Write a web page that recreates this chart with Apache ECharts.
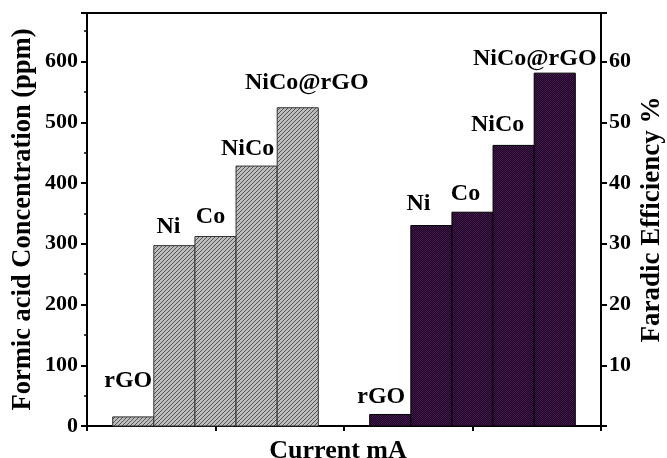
<!DOCTYPE html>
<html><head><meta charset="utf-8">
<script src="https://cdn.jsdelivr.net/npm/echarts@6/dist/echarts.min.js"></script>
<style>html,body{margin:0;padding:0;background:#fff}#chart{width:667px;height:458px}</style>
</head><body><div id="chart"></div>
<script>
// ---- data ----
const categories = ['rGO', 'Ni', 'Co', 'NiCo', 'NiCo@rGO'];
const formicPpm = [15, 297, 312, 428, 524];
const faradicEfficiency = [1.9, 33, 35.2, 46.2, 58.1];
const groupPositions = [1, 3];
const leftTickValues = [0, 100, 200, 300, 400, 500, 600];
const rightTickValues = [10, 20, 30, 40, 50, 60];

// ---- styling ----
const BAR_W = 0.32;
const leftLabelDx = [-5, -6, -5, -9, 9];
const leftLabelDy = [36, 19, 20, 17, 25];
const rightLabelDx = [-9, -13, -7, -16, -20];
const rightLabelDy = [18, 22, 18, 21, 14];
const FONT = '"Liberation Serif", "Times New Roman", serif';

function hatchPattern() {
  const s = 4, c = document.createElement('canvas');
  c.width = s; c.height = s;
  const g = c.getContext('2d');
  g.fillStyle = '#bdbdbd'; g.fillRect(0, 0, s, s);
  g.strokeStyle = '#4a4a4a'; g.lineWidth = 0.9;
  g.beginPath();
  g.moveTo(0, s); g.lineTo(s, 0);
  g.moveTo(-1, 1); g.lineTo(1, -1);
  g.moveTo(s - 1, s + 1); g.lineTo(s + 1, s - 1);
  g.stroke();
  return { image: c, repeat: 'repeat' };
}
function checkPattern() {
  const c = document.createElement('canvas');
  c.width = 2; c.height = 2;
  const g = c.getContext('2d');
  g.fillStyle = '#1a0620'; g.fillRect(0, 0, 2, 2);
  g.fillStyle = '#461650'; g.fillRect(0, 0, 1, 1); g.fillRect(1, 1, 1, 1);
  return { image: c, repeat: 'repeat' };
}

function makeRender(fill, stroke, dx, dy) {
  return function (params, api) {
    const x = api.value(0), v = api.value(1), i = params.dataIndex;
    const tl = api.coord([x - BAR_W / 2, v]);
    const br = api.coord([x + BAR_W / 2, 0]);
    return {
      type: 'group',
      children: [
        { type: 'rect', shape: { x: tl[0], y: tl[1], width: br[0] - tl[0], height: br[1] - tl[1] },
          style: { fill: fill, stroke: stroke, lineWidth: 1 } },
        { type: 'text', x: (tl[0] + br[0]) / 2 + dx[i], y: tl[1] - dy[i],
          style: { text: categories[i], fill: '#000', font: 'bold 24px ' + FONT,
                   align: 'center', verticalAlign: 'middle', textAlign: 'center', textVerticalAlign: 'middle' } }
      ]
    };
  };
}

const leftData = formicPpm.map((v, i) => [groupPositions[0] + (i - 2) * BAR_W, v]);
const rightData = faradicEfficiency.map((v, i) => [groupPositions[1] + (i - 2) * BAR_W, v]);

const axisLineStyle = { color: '#000', width: 2 };
const labelStyle = { color: '#000', fontFamily: FONT, fontWeight: 'bold', fontSize: 22 };

const chart = echarts.init(document.getElementById('chart'));
chart.setOption({
  animation: false,
  grid: { left: 87, right: 66, top: 13, bottom: 32, outerBoundsMode: 'none', containLabel: false,
          show: true, borderColor: '#000', borderWidth: 2, backgroundColor: 'transparent' },
  xAxis: {
    type: 'value', min: 0, max: 4, interval: 1,
    name: 'Current mA', nameLocation: 'middle', nameGap: 12, nameMoveOverlap: false,
    nameTextStyle: { color: '#000', fontFamily: FONT, fontWeight: 'bold', fontSize: 26, verticalAlign: 'top',
                     padding: [0, 12, 0, 0] },
    axisLine: { show: true, lineStyle: axisLineStyle },
    axisTick: { show: true, inside: false, length: 5, lineStyle: { color: '#000', width: 2 } },
    axisLabel: { show: false },
    splitLine: { show: false }
  },
  yAxis: [
    {
      type: 'value', min: 0, max: 680, interval: 100, position: 'left',
      name: 'Formic acid Concentration (ppm)', nameLocation: 'middle', nameGap: 50, nameRotate: 90,
      nameMoveOverlap: false,
      nameTextStyle: { color: '#000', fontFamily: FONT, fontWeight: 'bold', fontSize: 26.5 },
      axisLine: { show: true, lineStyle: axisLineStyle },
      axisTick: { show: true, inside: false, length: 6, lineStyle: { color: '#000', width: 2 } },
      minorTick: { show: true, splitNumber: 2, length: 3, lineStyle: { color: '#000', width: 1.5 } },
      axisLabel: Object.assign({ margin: 9, formatter: v => leftTickValues.includes(v) ? String(v) : '' }, labelStyle),
      splitLine: { show: false }
    },
    {
      type: 'value', min: 0, max: 68, interval: 10, position: 'right',
      name: 'Faradic Efficiency %', nameLocation: 'middle', nameGap: 38, nameRotate: 90,
      nameMoveOverlap: false,
      nameTextStyle: { color: '#000', fontFamily: FONT, fontWeight: 'bold', fontSize: 27 },
      axisLine: { show: true, lineStyle: axisLineStyle },
      axisTick: { show: true, inside: false, length: 6, lineStyle: { color: '#000', width: 2 } },
      axisLabel: Object.assign({ margin: 8, formatter: v => rightTickValues.includes(v) ? String(v) : '' }, labelStyle),
      splitLine: { show: false }
    }
  ],
  series: [
    { type: 'custom', xAxisIndex: 0, yAxisIndex: 0, data: leftData, encode: { x: 0, y: 1 },
      renderItem: makeRender(hatchPattern(), '#333', leftLabelDx, leftLabelDy), clip: false },
    { type: 'custom', xAxisIndex: 0, yAxisIndex: 1, data: rightData, encode: { x: 0, y: 1 },
      renderItem: makeRender(checkPattern(), '#000', rightLabelDx, rightLabelDy), clip: false }
  ]
});
</script>
</body></html>
